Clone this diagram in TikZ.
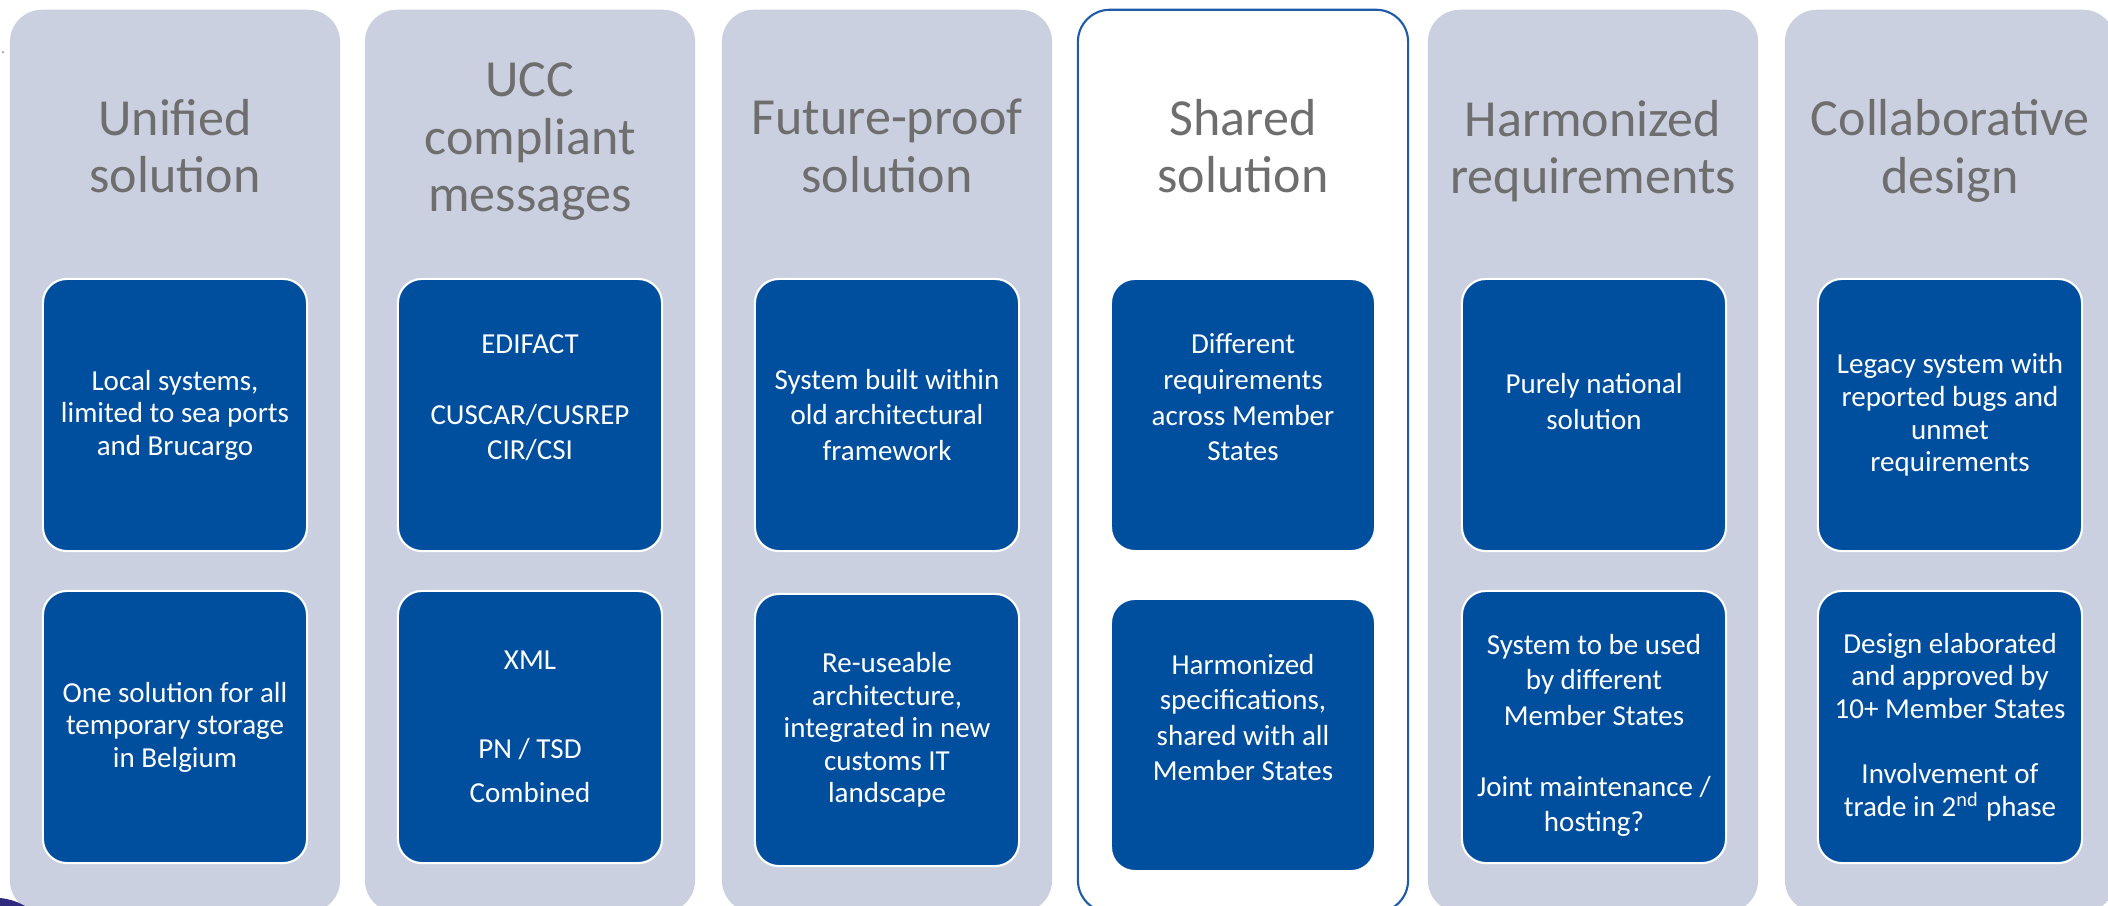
\documentclass[tikz,border=0pt]{standalone}
\usepackage{fontspec}
\setmainfont{Carlito}
\definecolor{colgrey}{HTML}{CBD0E0}
\definecolor{boxblue}{HTML}{004F9F}
\definecolor{titlegrey}{HTML}{6E6E6E}
\definecolor{rimblue}{HTML}{1E5BA8}
\definecolor{cornerpurple}{HTML}{2F2A7E}

\begin{document}
\begin{tikzpicture}[x=0.01cm, y=-0.01cm,
    col/.style={rectangle, rounded corners=0.32cm, fill=colgrey, minimum width=3.3cm, minimum height=9.02cm, inner sep=0pt},
    box/.style={rectangle, rounded corners=0.24cm, fill=boxblue, draw=white, line width=0.6pt, text=white, align=center, minimum width=2.64cm, minimum height=2.72cm, inner sep=0pt, font=\fontsize{8.25pt}{#1}\selectfont},
    box/.default=9.25pt,
    title/.style={text=titlegrey, align=center, font=\fontsize{14.8pt}{16.36pt}\selectfont}]
\useasboundingbox (0,0) rectangle (2108,906);

% columns
\node[col] (c1) at (175,461) {};
\node[col] (c2) at (530,461) {};
\node[col] (c3) at (887,461) {};
\node[col, fill=white, draw=rimblue, line width=0.6pt] (c4) at (1243,461) {};
\node[col] (c5) at (1593,461) {};
\node[col] (c6) at (1950,461) {};

% headings
\node[title] (t1) at (175,146) {Unified\\solution};
\node[title] (t2) at (530,142) {UCC\\compliant\\messages};
\node[title] (t3) at (887,146) {Future-proof\\solution};
\node[title] (t4) at (1243,146) {Shared\\solution};
\node[title] (t5) at (1593,151) {Harmonized\\requirements};
\node[title] (t6) at (1950,151) {Collaborative\\design};

% blue boxes, before / after
\node[box] (b11) at (175,415) {Local systems,\\limited to sea ports\\and Brucargo};
\node[box] (b12) at (175,727) {One solution for all\\temporary storage\\in Belgium};
\node[box=10.1pt] (b21) at (530,415) {EDIFACT\\\mbox{}\\CUSCAR/CUSREP\\CIR/CSI\\\mbox{}};
\node[box=12.66pt] (b22) at (530,727) {XML\\\mbox{}\\PN / TSD\\Combined};
\node[box=10.1pt] (b31) at (887,415) {System built within\\old architectural\\framework};
\node[box] (b32) at (887,730) {Re-useable\\architecture,\\integrated in new\\customs IT\\landscape};
\node[box=10.1pt] (b41) at (1243,415) {Different\\requirements\\across Member\\States\\\mbox{}};
\node[box=10.1pt] (b42) at (1243,735) {Harmonized\\specifications,\\shared with all\\Member States\\\mbox{}};
\node[box=10.1pt] (b51) at (1594,415) {\rule{0pt}{8pt}Purely national\\solution\\\mbox{}};
\node[box=10.1pt] (b52) at (1594,727) {\rule{0pt}{10.4pt}System to be used\\by different\\Member States\\\mbox{}\\Joint maintenance /\\hosting?};
\node[box] (b61) at (1950,415) {Legacy system with\\reported bugs and\\unmet\\requirements};
\node[box] (b62) at (1950,727) {Design elaborated\\and approved by\\10+ Member States\\\mbox{}\\Involvement of\\trade in 2\textsuperscript{nd} phase};

% stray marks at the edge
\fill[cornerpurple] (0,898) .. controls (10,899) and (18,902) .. (25,906) -- (0,906) -- cycle;
\fill[gray] (3,52) circle (1);
\end{tikzpicture}
\end{document}
